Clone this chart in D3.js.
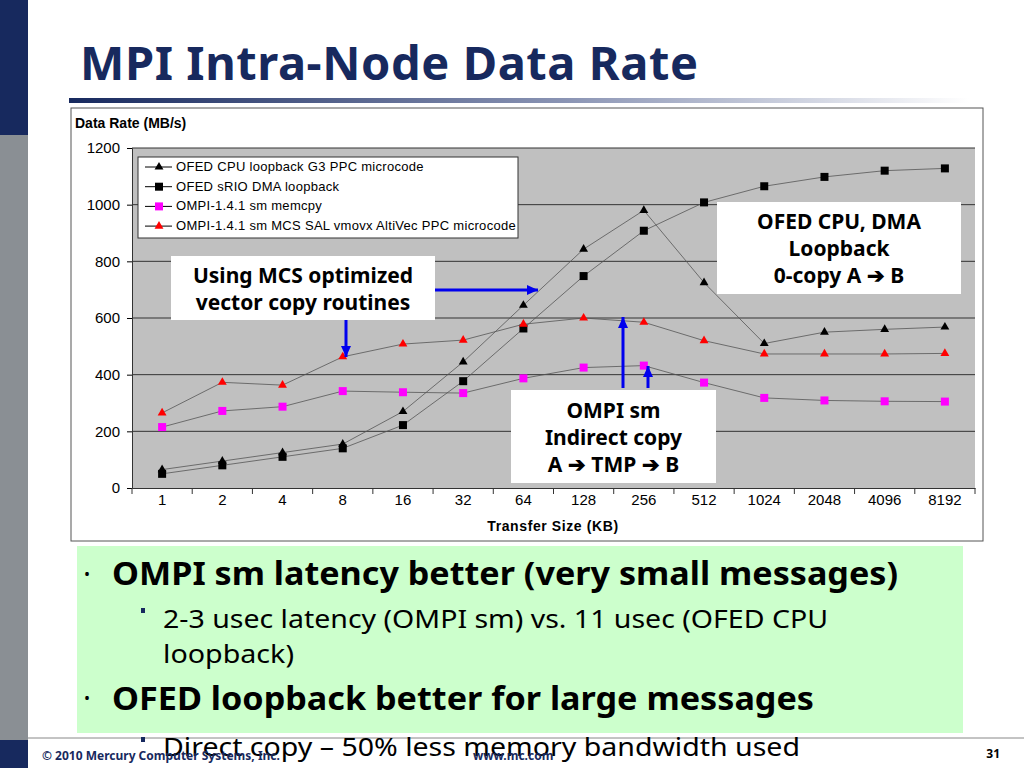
<!DOCTYPE html>
<html><head><meta charset="utf-8">
<script src="https://cdn.jsdelivr.net/npm/d3@7"></script>
<style>body{margin:0;background:#fff}svg{display:block}</style>
</head><body>
<svg id="s" width="1024" height="768"></svg>
<script>
const categories=["1","2","4","8","16","32","64","128","256","512","1024","2048","4096","8192"];
const ofedCpu=[65,95,125,155,270,445,645,843,980,725,510,550,560,568];
const ofedDma=[50,80,110,140,222,377,563,748,908,1008,1065,1098,1120,1128];
const ompiMemcpy=[215,272,287,342,338,335,387,425,432,372,318,309,306,305];
const ompiMcs=[265,373,363,463,508,522,578,600,585,520,473,473,473,475];
const yTicks=[0,200,400,600,800,1000,1200];
const seriesNames=["OFED CPU loopback G3 PPC  microcode","OFED sRIO DMA loopback","OMPI-1.4.1 sm memcpy","OMPI-1.4.1 sm MCS SAL vmovx AltiVec PPC microcode"];

const svg=d3.select("#s");
const navy="#17295e";
svg.append("rect").attr("x",0).attr("y",0).attr("width",28).attr("height",135).attr("fill",navy);
svg.append("rect").attr("x",0).attr("y",135).attr("width",28).attr("height",605).attr("fill","#8a8f94");
svg.append("rect").attr("x",0).attr("y",740).attr("width",28).attr("height",28).attr("fill",navy);
svg.append("text").attr("x",80).attr("y",80).attr("font-family","Noto Sans").attr("font-weight","bold")
 .attr("font-size",47).attr("fill",navy).attr("textLength",618).text("MPI Intra-Node Data Rate");
const defs=svg.append("defs");
const g=defs.append("linearGradient").attr("id","gr");
g.append("stop").attr("offset","0").attr("stop-color",navy);
g.append("stop").attr("offset","0.55").attr("stop-color","#8a94b4");
g.append("stop").attr("offset","1").attr("stop-color","#fff");
svg.append("rect").attr("x",69).attr("y",98).attr("width",900).attr("height",5).attr("fill","url(#gr)");

svg.append("rect").attr("x",71).attr("y",108).attr("width",912).attr("height",433).attr("fill","#fff").attr("stroke","#555");
svg.append("text").attr("x",75).attr("y",128).attr("font-family","Liberation Sans").attr("font-weight","bold").attr("font-size",14).text("Data Rate (MB/s)");

const x=d3.scaleBand().domain(categories).range([132,975]);
const y=d3.scaleLinear().domain([0,1200]).range([488,148]);
svg.append("rect").attr("x",132).attr("y",148).attr("width",843).attr("height",340).attr("fill","#c0c0c0");
yTicks.forEach(t=>{ if(t>0) svg.append("line").attr("x1",132).attr("x2",975).attr("y1",y(t)).attr("y2",y(t)).attr("stroke","#333");});
const ya=svg.append("g").attr("transform","translate(132,0)").call(d3.axisLeft(y).tickValues(yTicks).tickSize(5).tickFormat(d3.format("d")));
ya.select(".domain").attr("stroke","#333");
ya.selectAll("text").attr("font-family","Liberation Sans").attr("font-size",15).attr("dx",-4);
const xa=svg.append("g").attr("transform","translate(0,488)").call(d3.axisBottom(x).tickSize(0));
xa.select(".domain").attr("stroke","#333");
xa.selectAll("text").attr("font-family","Liberation Sans").attr("font-size",15).attr("dy",14);
categories.concat(["end"]).forEach((c,i)=>{const xx=132+i*x.step();svg.append("line").attr("x1",xx).attr("x2",xx).attr("y1",488).attr("y2",494).attr("stroke","#333");});
svg.append("text").attr("x",553).attr("y",531).attr("text-anchor","middle").attr("font-family","Liberation Sans").attr("font-weight","bold").attr("font-size",14).attr("letter-spacing",0.6).text("Transfer Size (KB)");

const series=[{v:ofedCpu,c:"#000",m:"tri"},{v:ofedDma,c:"#000",m:"sq"},{v:ompiMemcpy,c:"#ff00ff",m:"sq"},{v:ompiMcs,c:"#ff0000",m:"tri"}];
const line=d3.line().x((d,i)=>x(categories[i])+x.bandwidth()/2).y(d=>y(d));
function marker(sel,m,c,cx,cy){
 if(m==="tri") sel.append("path").attr("d",d3.symbol(d3.symbolTriangle,34)()).attr("transform",`translate(${cx},${cy})`).attr("fill",c);
 else sel.append("rect").attr("x",cx-4).attr("y",cy-4).attr("width",8).attr("height",8).attr("fill",c);
}
series.forEach(s=>{
 svg.append("path").attr("d",line(s.v)).attr("fill","none").attr("stroke","#555").attr("stroke-width",0.8);
 s.v.forEach((d,i)=>marker(svg,s.m,s.c,x(categories[i])+x.bandwidth()/2,y(d)));
});
svg.append("rect").attr("x",138).attr("y",157).attr("width",380).attr("height",81).attr("fill","#fff").attr("stroke","#333");
seriesNames.forEach((n,i)=>{
 const yy=166+i*19.7;
 svg.append("line").attr("x1",145).attr("x2",172).attr("y1",yy+1).attr("y2",yy+1).attr("stroke","#000");
 marker(svg,series[i].m,series[i].c,159,yy+1);
 svg.append("text").attr("x",176).attr("y",yy+5).attr("font-family","Liberation Sans").attr("font-size",13).attr("letter-spacing",0.3).text(n);
});
function box(x0,y0,w,h,lines,fs,lh,ty){
 svg.append("rect").attr("x",x0).attr("y",y0).attr("width",w).attr("height",h).attr("fill","#fff");
 lines.forEach((l,i)=>svg.append("text").attr("x",x0+w/2).attr("y",ty+i*lh).attr("text-anchor","middle")
  .attr("font-family","Noto Sans").attr("font-weight","bold").attr("font-size",fs).text(l));
}
box(171,256,264,64,["Using MCS optimized","vector copy routines"],21,27,283);
box(511,390,205,93,["OMPI sm","Indirect copy","A ➔ TMP ➔ B"],21,27,418);
box(717,202,244,92,["OFED CPU, DMA","Loopback","0-copy A ➔ B"],21,27,229);
const blue="#0000ee";
function arrow(x1,y1,x2,y2){
 svg.append("line").attr("x1",x1).attr("y1",y1).attr("x2",x2).attr("y2",y2).attr("stroke",blue).attr("stroke-width",3);
 const a=Math.atan2(y2-y1,x2-x1);
 const p=[[x2,y2],[x2-11*Math.cos(a)+5*Math.sin(a),y2-11*Math.sin(a)-5*Math.cos(a)],[x2-11*Math.cos(a)-5*Math.sin(a),y2-11*Math.sin(a)+5*Math.cos(a)]];
 svg.append("path").attr("d","M"+p.join("L")+"Z").attr("fill",blue);
}
arrow(435,290,538,290);
arrow(346,320,346,357);
arrow(623,388,623,317);
arrow(648,388,648,366);

svg.append("rect").attr("x",77).attr("y",546).attr("width",886).attr("height",187).attr("fill","#ccffcc");
function txt(x0,y0,s,fs,bold,tl){const t=svg.append("text").attr("x",x0).attr("y",y0).attr("font-family","Noto Sans").attr("font-weight",bold?"bold":"normal").attr("font-size",fs).text(s); if(tl) t.attr("textLength",tl).attr("lengthAdjust","spacingAndGlyphs");}
txt(84,580,"•",16,false); txt(112,585,"OMPI sm latency better (very small messages)",32,true,786);
svg.append("rect").attr("x",141).attr("y",608).attr("width",4).attr("height",5).attr("fill",navy);
txt(163,628,"2-3 usec latency (OMPI sm) vs. 11 usec (OFED CPU",26,false,665);
txt(163,663,"loopback)",26,false,131);
txt(84,704,"•",16,false); txt(112,710,"OFED loopback better for large messages",32,true,702);
svg.append("line").attr("x1",28).attr("x2",1024).attr("y1",738).attr("y2",738).attr("stroke","#888");
svg.append("rect").attr("x",141).attr("y",737).attr("width",4).attr("height",5).attr("fill",navy);
txt(163,756,"Direct copy – 50% less memory bandwidth used",26,false,637);
svg.append("text").attr("x",42).attr("y",760).attr("font-family","Noto Sans").attr("font-weight","bold").attr("font-size",12).attr("fill",navy).text("© 2010 Mercury Computer Systems, Inc.");
svg.append("text").attr("x",473).attr("y",760).attr("font-family","Noto Sans").attr("font-weight","bold").attr("font-size",12).attr("fill",navy).text("www.mc.com");
svg.append("text").attr("x",1000).attr("y",758).attr("text-anchor","end").attr("font-family","Noto Sans").attr("font-weight","bold").attr("font-size",12).text("31");
</script></body></html>
